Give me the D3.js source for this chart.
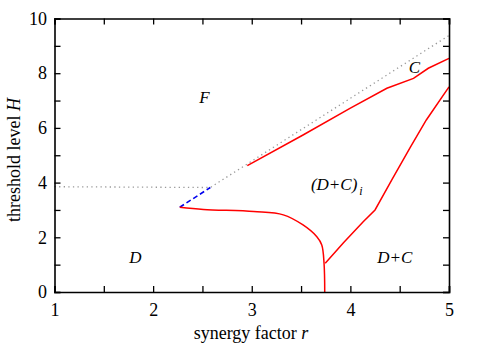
<!DOCTYPE html>
<html>
<head>
<meta charset="utf-8">
<script src="https://cdn.jsdelivr.net/npm/d3@7"></script>
<style>
  body { margin: 0; background: #fff; }
  svg text { font-family: "Liberation Serif", "DejaVu Serif", serif !important; }
</style>
</head>
<body>
<svg width="491" height="348"></svg>
<script>
const [w, h] = [491, 348];
const m = {left: 54.5, right: 42, top: 18.5, bottom: 56};

// boundary curves, [r, H]
const dottedLine = [[1, 3.85], [2.58, 3.82], [5, 9.38]];
const dashedLine = [[2.27, 3.1], [2.58, 3.82]];
const upperRed = [[2.955, 4.62], [3.52, 5.74], [4.0, 6.72], [4.37, 7.45], [4.64, 7.81], [4.79, 8.18], [5, 8.54]];
const lowerRed = [[2.27, 3.1], [2.51, 3.02], [3.02, 2.94], [3.32, 2.82], [3.52, 2.45], [3.66, 2.02], [3.71, 1.72], [3.733, 1.05], [3.74, 0]];
const rightRed = [[3.745, 1.05], [3.93, 1.8], [4.13, 2.57], [4.25, 3.0], [4.42, 4.1], [4.61, 5.31], [4.77, 6.29], [5, 7.5]];

const xTicks = [1, 2, 3, 4, 5];
const yTicks = [0, 2, 4, 6, 8, 10];

const regionLabels = [
  {r: 2.52, H: 6.9, text: 'F'},
  {r: 4.65, H: 8.0, text: 'C'},
  {r: 1.82, H: 1.05, text: 'D'},
  {r: 4.45, H: 1.05, text: 'D+C'}
];

const svg = d3.select('svg');

const xScale = d3.scaleLinear().domain([1, 5]).range([m.left, w - m.right]);
const yScale = d3.scaleLinear().domain([0, 10]).range([h - m.bottom, m.top]);

const line = d3.line().x(d => xScale(d[0])).y(d => yScale(d[1]));
const smooth = d3.line().x(d => xScale(d[0])).y(d => yScale(d[1])).curve(d3.curveCatmullRom);

svg.append('path').attr('d', line(dottedLine))
  .attr('fill', 'none').attr('stroke', '#999').attr('stroke-width', 1.3)
  .attr('stroke-dasharray', '1.3,3.3');

svg.append('path').attr('d', line(dashedLine))
  .attr('fill', 'none').attr('stroke', '#0000ee').attr('stroke-width', 1.6)
  .attr('stroke-dasharray', '5,3');

svg.append('path').attr('d', line(upperRed))
  .attr('fill', 'none').attr('stroke', '#ff0000').attr('stroke-width', 1.5);
svg.append('path').attr('d', smooth(lowerRed))
  .attr('fill', 'none').attr('stroke', '#ff0000').attr('stroke-width', 1.5);
svg.append('path').attr('d', line(rightRed))
  .attr('fill', 'none').attr('stroke', '#ff0000').attr('stroke-width', 1.5);

// axes: ticks inward on all four sides
const minorX = d3.range(1, 5.01, 0.5);
const minorY = d3.range(0, 10.01, 1);

svg.append('g').attr('transform', `translate(0, ${h - m.bottom})`)
  .call(d3.axisBottom(xScale).tickValues(minorX).tickSize(-6)
    .tickFormat(d => xTicks.includes(d) ? d3.format('d')(d) : ''))
  .call(g => g.selectAll('text').attr('dy', '1.15em'));
svg.append('g').attr('transform', `translate(0, ${m.top})`)
  .call(d3.axisTop(xScale).tickValues(minorX).tickSize(-6).tickFormat(''));
svg.append('g').attr('transform', `translate(${m.left}, 0)`)
  .call(d3.axisLeft(yScale).tickValues(minorY).tickSize(-6)
    .tickFormat(d => yTicks.includes(d) ? d3.format('d')(d) : ''))
  .call(g => g.selectAll('text').attr('dx', '-0.25em'));
svg.append('g').attr('transform', `translate(${w - m.right}, 0)`)
  .call(d3.axisRight(yScale).tickValues(minorY).tickSize(-6).tickFormat(''));

svg.selectAll('.domain').attr('stroke', '#000').attr('stroke-width', 1.6);
svg.selectAll('.tick line').attr('stroke', '#000').attr('stroke-width', 1.3);
svg.selectAll('.tick text').style('font-size', '18px').attr('fill', '#000');

// region labels
svg.selectAll('.region').data(regionLabels).enter().append('text')
  .attr('x', d => xScale(d.r)).attr('y', d => yScale(d.H))
  .attr('text-anchor', 'middle').attr('font-size', 17).attr('font-style', 'italic')
  .text(d => d.text);

const dc = svg.append('text').attr('x', xScale(3.6)).attr('y', yScale(3.73))
  .attr('font-size', 17).attr('font-style', 'italic');
dc.append('tspan').text('(D+C)');
dc.append('tspan').attr('font-size', 12).attr('dy', 5).attr('dx', 2).text('i');

// axis titles
const xl = svg.append('text').attr('x', 251).attr('y', 339)
  .attr('text-anchor', 'middle').attr('font-size', 18);
xl.append('tspan').text('synergy factor ');
xl.append('tspan').attr('font-style', 'italic').text('r');

const yl = svg.append('text').attr('transform', 'translate(20, 160) rotate(-90)')
  .attr('text-anchor', 'middle').attr('font-size', 18);
yl.append('tspan').text('threshold level ');
yl.append('tspan').attr('font-style', 'italic').text('H');
</script>
</body>
</html>
